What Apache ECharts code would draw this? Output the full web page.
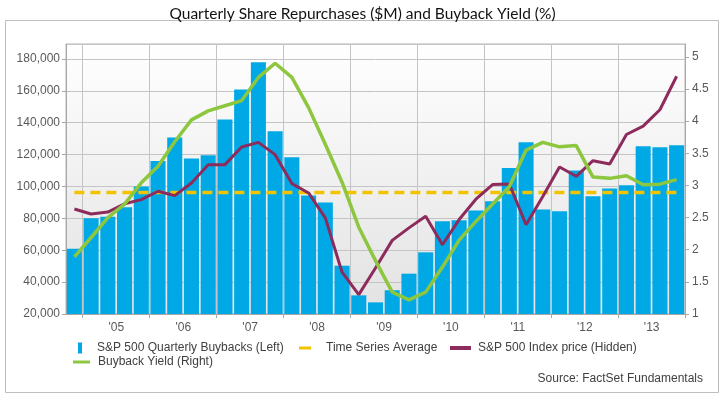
<!DOCTYPE html>
<html>
<head>
<meta charset="utf-8">
<script src="https://cdn.jsdelivr.net/npm/echarts@6/dist/echarts.min.js"></script>
<style>
html,body{margin:0;padding:0;background:#fff;}
#chart{width:725px;height:397px;}
</style>
</head>
<body>
<div id="chart"></div>
<script>
// ---- data ----
const categories = [
  'Q4 2004',
  'Q1 2005','Q2 2005','Q3 2005','Q4 2005',
  'Q1 2006','Q2 2006','Q3 2006','Q4 2006',
  'Q1 2007','Q2 2007','Q3 2007','Q4 2007',
  'Q1 2008','Q2 2008','Q3 2008','Q4 2008',
  'Q1 2009','Q2 2009','Q3 2009','Q4 2009',
  'Q1 2010','Q2 2010','Q3 2010','Q4 2010',
  'Q1 2011','Q2 2011','Q3 2011','Q4 2011',
  'Q1 2012','Q2 2012','Q3 2012','Q4 2012',
  'Q1 2013','Q2 2013','Q3 2013','Q4 2013'
];
// S&P 500 quarterly buybacks ($M), left axis
const buybacks = [
  61000,
  80000, 81000, 87000, 100000,
  116000, 130700, 117500, 119600,
  142000, 160800, 178000, 134600,
  118300, 94300, 90000, 50300,
  31700, 27300, 34900, 45300,
  58700, 78200, 78800, 85000,
  90700, 111600, 127700, 85500,
  84400, 110000, 93800, 98700,
  100800, 125200, 124600, 125900
];
// Time series average of buybacks ($M)
const timeSeriesAverage = 96300;
// S&P 500 index price (hidden axis)
const indexPrice = [
  1210,
  1186, 1195, 1235, 1255,
  1295, 1274, 1335, 1423,
  1423, 1508, 1530, 1471,
  1332, 1287, 1167, 906,
  798, 926, 1059, 1119,
  1175, 1038, 1159, 1257,
  1327, 1330, 1134, 1270,
  1412, 1367, 1442, 1426,
  1568, 1608, 1687, 1848
];
// Buyback yield (%), right axis
const buybackYield = [
  1.89,
  2.19, 2.50, 2.71, 3.04,
  3.30, 3.68, 4.02, 4.16,
  4.24, 4.32, 4.68, 4.90,
  4.68, 4.21, 3.64, 3.05,
  2.35, 1.83, 1.34, 1.22,
  1.34, 1.73, 2.15, 2.44,
  2.71, 2.98, 3.55, 3.67,
  3.60, 3.62, 3.13, 3.11,
  3.15, 3.01, 3.02, 3.09
];
const leftTicks = { min: 20000, max: 189400, interval: 20000 };
const rightTicks = { min: 1, max: 5.2, interval: 0.5 };
const hiddenRange = { min: 705, max: 2003 };

const seriesNames = [
  'S&P 500 Quarterly Buybacks (Left)',
  'Time Series Average',
  'S&P 500 Index price (Hidden)',
  'Buyback Yield (Right)'
];
const colors = ['#00a9e6', '#f2c300', '#8c2b5c', '#8dc63f'];

const chart = echarts.init(document.getElementById('chart'), null, { renderer: 'canvas' });
const FONT = 'Liberation Sans, Arial, sans-serif';
const legendText = { color: '#404040', fontSize: 12, fontFamily: FONT };

const option = {
  animation: false,
  backgroundColor: '#ffffff',
  title: [
    {
      text: 'Quarterly Share Repurchases ($M) and Buyback Yield (%)',
      left: 'center', top: 1,
      textStyle: { fontFamily: 'Lato, Liberation Sans, sans-serif', fontSize: 15.5, fontWeight: 'normal', color: '#111' }
    },
    {
      text: 'Source: FactSet Fundamentals',
      right: 17, top: 368,
      textStyle: { fontFamily: FONT, fontSize: 12, fontWeight: 'normal', color: '#404040' }
    }
  ],
  graphic: [{
    type: 'rect', z: -10, silent: true,
    shape: { x: 5.5, y: 20.5, width: 713, height: 372 },
    style: { fill: 'none', stroke: '#bdbdbd', lineWidth: 1 }
  }],
  legend: [
    {
      data: [{ name: seriesNames[0], icon: 'rect' }],
      left: 78, top: 342, padding: 0, itemWidth: 4, itemHeight: 11,
      textStyle: Object.assign({ padding: [0, 0, 0, 10] }, legendText)
    },
    {
      data: [{ name: seriesNames[1], icon: 'rect' }],
      left: 299, top: 342, padding: 0, itemWidth: 12, itemHeight: 3,
      textStyle: Object.assign({ padding: [0, 0, 0, 10] }, legendText)
    },
    {
      data: [{ name: seriesNames[2], icon: 'rect' }],
      left: 450, top: 342, padding: 0, itemWidth: 21, itemHeight: 4,
      textStyle: Object.assign({ padding: [0, 0, 0, 2] }, legendText)
    },
    {
      data: [{ name: seriesNames[3], icon: 'rect' }],
      left: 73, top: 356, padding: 0, itemWidth: 17, itemHeight: 3,
      textStyle: Object.assign({ padding: [0, 0, 0, 3] }, legendText)
    }
  ],
  grid: {
    left: 66, right: 40, top: 44, bottom: 83,
    show: true,
    borderColor: '#b5b5b5', borderWidth: 1,
    backgroundColor: new echarts.graphic.LinearGradient(0, 0, 0, 1, [
      { offset: 0, color: '#ffffff' },
      { offset: 1, color: '#e2e2e2' }
    ])
  },
  xAxis: {
    type: 'category',
    data: categories,
    boundaryGap: true,
    axisLine: { lineStyle: { color: '#a8a8a8' } },
    axisTick: {
      show: true, length: 4,
      interval: (i, v) => v.startsWith('Q1'),
      lineStyle: { color: '#a8a8a8' }
    },
    splitLine: {
      show: true,
      interval: (i, v) => v.startsWith('Q1'),
      lineStyle: { color: '#c4c4c4', width: 1 }
    },
    axisLabel: {
      interval: (i, v) => v.startsWith('Q2'),
      margin: 8,
      color: '#595959', fontSize: 12, fontFamily: FONT,
      formatter: v => "{y|'" + v.slice(-2) + '}',
      rich: { y: { padding: [0, 0, 0, 17], color: '#595959', fontSize: 12, fontFamily: FONT } }
    }
  },
  yAxis: [
    {
      type: 'value', position: 'left',
      min: leftTicks.min, max: leftTicks.max, interval: leftTicks.interval,
      axisLine: { show: true, lineStyle: { color: '#a8a8a8' } },
      axisTick: { show: true, length: 4, lineStyle: { color: '#a8a8a8' } },
      splitLine: { show: true, lineStyle: { color: '#c4c4c4' } },
      axisLabel: {
        showMaxLabel: false, margin: 6,
        color: '#595959', fontSize: 12, fontFamily: FONT,
        formatter: v => v.toLocaleString('en-US')
      }
    },
    {
      type: 'value', position: 'right',
      min: rightTicks.min, max: rightTicks.max, interval: rightTicks.interval,
      axisLine: { show: true, lineStyle: { color: '#a8a8a8' } },
      axisTick: { show: true, length: 4, lineStyle: { color: '#a8a8a8' } },
      splitLine: { show: false },
      axisLabel: {
        showMaxLabel: false, margin: 7,
        color: '#595959', fontSize: 12, fontFamily: FONT
      }
    },
    {
      type: 'value', show: false,
      min: hiddenRange.min, max: hiddenRange.max,
      splitLine: { show: false }
    }
  ],
  series: [
    {
      name: seriesNames[0], type: 'bar', yAxisIndex: 0,
      data: buybacks, barCategoryGap: '10%',
      itemStyle: { color: colors[0] }, z: 2
    },
    {
      name: seriesNames[1], type: 'line', yAxisIndex: 0,
      data: categories.map(() => timeSeriesAverage),
      showSymbol: false, symbol: 'none',
      lineStyle: { color: colors[1], width: 3.5, type: [10, 6], cap: 'butt' },
      itemStyle: { color: colors[1] }, z: 3
    },
    {
      name: seriesNames[2], type: 'line', yAxisIndex: 2,
      data: indexPrice,
      showSymbol: false, symbol: 'none',
      lineStyle: { color: colors[2], width: 3 },
      itemStyle: { color: colors[2] }, z: 4
    },
    {
      name: seriesNames[3], type: 'line', yAxisIndex: 1,
      data: buybackYield,
      showSymbol: false, symbol: 'none',
      lineStyle: { color: colors[3], width: 3.5 },
      itemStyle: { color: colors[3] }, z: 5
    }
  ]
};
chart.setOption(option);
</script>
</body>
</html>
